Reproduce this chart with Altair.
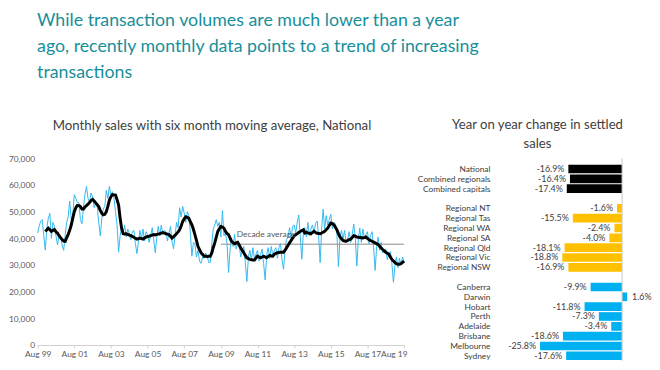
import altair as alt
import pandas as pd

FONT = "Lato"
TEAL = "#178f9a"
DARK = "#404040"
GREY = "#595959"

headline = ["While transaction volumes are much lower than a year",
            "ago, recently monthly data points to a trend of increasing",
            "transactions"]
left_title = "Monthly sales with six month moving average, National"
right_title = ["Year on year change in settled", "sales"]

# Monthly sales (thousands), Aug 1999 .. Aug 2019
sales_1999 = [42.0, 44.5, 46.5, 47.0, 41.0]
sales_2000 = [35.6, 44.0, 47.5, 49.4, 40.0, 46.0, 44.5, 41.0, 37.5, 41.0, 40.5, 37.5]
sales_2001 = [35.5, 41.4, 46.0, 48.1, 54.0, 47.0, 48.5, 56.4, 55.0, 53.5, 53.4, 47.0]
sales_2002 = [45.5, 52.0, 56.5, 59.5, 55.0, 53.5, 57.0, 55.5, 51.5, 53.0, 52.0, 46.0]
sales_2003 = [41.0, 47.5, 51.0, 52.0, 58.0, 55.0, 59.5, 56.0, 57.5, 55.0, 50.0, 45.0]
sales_2004 = [34.8, 41.0, 44.5, 42.0, 45.0, 40.5, 43.5, 42.0, 39.5, 42.5, 43.0, 38.0]
sales_2005 = [34.3, 39.0, 43.0, 40.0, 43.5, 39.0, 42.5, 41.5, 38.5, 41.0, 44.0, 39.5]
sales_2006 = [34.6, 40.5, 44.5, 41.0, 45.0, 41.5, 43.0, 42.5, 39.0, 42.0, 44.5, 39.0]
sales_2007 = [36.1, 41.0, 46.0, 44.0, 51.5, 48.0, 52.0, 49.5, 46.0, 50.0, 48.5, 42.0]
sales_2008 = [33.3, 38.5, 38.0, 33.0, 35.5, 31.5, 30.6, 33.0, 32.5, 34.5, 33.5, 31.0]
sales_2009 = [30.9, 38.0, 43.5, 45.0, 47.0, 44.5, 46.0, 40.5, 50.4, 41.0, 42.0, 38.0]
sales_2010 = [27.2, 36.0, 40.0, 37.0, 41.5, 36.0, 38.0, 37.5, 33.0, 35.5, 37.0, 31.0]
sales_2011 = [23.8, 33.0, 35.5, 32.0, 36.5, 32.5, 34.0, 35.5, 31.5, 34.0, 36.0, 30.5]
sales_2012 = [24.4, 34.0, 36.5, 32.5, 37.0, 33.5, 35.5, 36.5, 32.5, 36.5, 38.0, 32.0]
sales_2013 = [28.4, 36.0, 39.5, 40.5, 44.0, 40.0, 44.5, 45.0, 42.0, 46.0, 48.8, 40.5]
sales_2014 = [32.2, 42.5, 44.0, 40.5, 46.0, 41.0, 43.5, 45.0, 42.0, 45.5, 46.5, 41.0]
sales_2015 = [30.9, 44.0, 50.9, 43.5, 48.5, 45.0, 47.0, 49.0, 43.5, 46.0, 45.5, 41.5]
sales_2016 = [29.4, 40.5, 43.0, 39.5, 43.0, 38.5, 39.5, 42.5, 38.5, 41.5, 45.4, 40.0]
sales_2017 = [29.6, 40.0, 43.8, 38.5, 43.5, 40.0, 41.5, 42.5, 38.0, 41.0, 42.5, 36.5]
sales_2018 = [28.0, 37.0, 40.5, 35.5, 38.5, 34.5, 35.5, 36.0, 32.0, 34.5, 35.0, 30.5]
sales_2019 = [23.5, 30.0, 33.0, 29.0, 32.5, 30.0, 33.0, 31.0]

# Six month moving average (thousands), Jan 2000 .. Aug 2019
ma_2000 = [42.6, 43.2, 43.8, 43.2, 42.6, 43.0, 43.3, 42.5, 41.9, 41.0, 40.2, 39.6]
ma_2001 = [39.0, 38.9, 40.2, 41.5, 43.0, 45.0, 47.5, 50.0, 51.5, 52.4, 52.3, 51.9]
ma_2002 = [51.0, 51.0, 51.8, 52.3, 52.8, 53.4, 54.2, 54.6, 54.0, 53.3, 52.6, 51.9]
ma_2003 = [50.5, 49.4, 48.8, 49.0, 50.0, 52.0, 54.3, 55.6, 56.4, 56.3, 56.2, 54.5]
ma_2004 = [52.5, 47.5, 43.8, 41.7, 41.6, 41.7, 41.5, 41.2, 41.0, 40.7, 40.4, 40.0]
ma_2005 = [39.7, 39.9, 40.1, 39.9, 39.7, 40.1, 40.5, 40.7, 40.8, 41.0, 41.2, 41.4]
ma_2006 = [41.3, 41.5, 41.6, 41.7, 42.0, 42.2, 42.0, 41.7, 41.6, 41.4, 40.8, 40.1]
ma_2007 = [40.6, 41.2, 41.7, 42.4, 43.2, 44.6, 46.3, 47.3, 48.1, 47.9, 47.5, 46.3]
ma_2008 = [45.1, 43.3, 41.4, 39.2, 37.0, 35.8, 34.6, 34.0, 33.3, 33.3, 33.2, 33.3]
ma_2009 = [33.3, 34.5, 36.5, 38.3, 40.5, 42.6, 43.6, 44.4, 44.2, 43.8, 42.6, 41.8]
ma_2010 = [41.4, 40.1, 38.9, 38.4, 38.0, 38.3, 38.5, 37.5, 36.4, 35.5, 34.6, 33.6]
ma_2011 = [32.7, 32.4, 32.1, 32.0, 31.9, 31.9, 32.6, 33.3, 33.0, 32.7, 33.0, 33.3]
ma_2012 = [33.0, 32.7, 33.2, 33.6, 33.4, 33.3, 34.0, 34.4, 34.6, 34.7, 34.8, 34.8]
ma_2013 = [34.8, 35.6, 36.4, 37.4, 38.3, 39.2, 40.1, 40.9, 41.4, 41.7, 42.2, 42.6]
ma_2014 = [42.9, 43.2, 42.0, 42.3, 42.0, 41.9, 41.7, 42.2, 42.6, 42.2, 41.9, 41.8]
ma_2015 = [41.7, 42.0, 42.3, 42.6, 43.2, 43.8, 44.8, 45.7, 45.5, 45.1, 44.2, 43.2]
ma_2016 = [41.8, 40.5, 39.8, 39.2, 39.0, 38.9, 39.2, 39.5, 39.7, 40.3, 41.0, 40.8]
ma_2017 = [40.5, 40.4, 40.3, 40.2, 40.1, 40.3, 40.5, 40.0, 39.5, 39.2, 38.9, 38.6]
ma_2018 = [38.3, 38.0, 37.7, 37.0, 36.4, 35.8, 35.3, 34.8, 34.4, 34.0, 33.0, 32.1]
ma_2019 = [31.5, 30.9, 30.5, 30.3, 30.3, 30.5, 31.0, 31.5]

decade_average = 37.8  # thousands, Aug 2009 .. Aug 2019
decade_label = "Decade average"

yoy_names = ["National", "Combined regionals", "Combined capitals",
             "Regional NT", "Regional Tas", "Regional WA", "Regional SA",
             "Regional Qld", "Regional Vic", "Regional NSW",
             "Canberra", "Darwin", "Hobart", "Perth", "Adelaide",
             "Brisbane", "Melbourne", "Sydney"]
yoy_values = [-16.9, -16.4, -17.4,
              -1.6, -15.5, -2.4, -4.0, -18.1, -18.8, -16.9,
              -9.9, 1.6, -11.8, -7.3, -3.4, -18.6, -25.8, -17.6]
yoy_groups = ["Total"] * 3 + ["Regional"] * 7 + ["Capital"] * 8

# ---------------- tables ----------------
sales = (sales_1999 + sales_2000 + sales_2001 + sales_2002 + sales_2003 + sales_2004
         + sales_2005 + sales_2006 + sales_2007 + sales_2008 + sales_2009 + sales_2010
         + sales_2011 + sales_2012 + sales_2013 + sales_2014 + sales_2015 + sales_2016
         + sales_2017 + sales_2018 + sales_2019)
ma = (ma_2000 + ma_2001 + ma_2002 + ma_2003 + ma_2004 + ma_2005 + ma_2006 + ma_2007
      + ma_2008 + ma_2009 + ma_2010 + ma_2011 + ma_2012 + ma_2013 + ma_2014 + ma_2015
      + ma_2016 + ma_2017 + ma_2018 + ma_2019)

sales_df = pd.DataFrame({
    "date": pd.date_range("1999-08-01", periods=len(sales), freq="MS").strftime("%Y-%m-%dT00:00:00"),
    "v": [s * 1000 for s in sales]})
ma_df = pd.DataFrame({
    "date": pd.date_range("2000-01-01", periods=len(ma), freq="MS").strftime("%Y-%m-%dT00:00:00"),
    "v": [s * 1000 for s in ma]})
avg_df = pd.DataFrame({"date": ["2009-08-01T00:00:00"], "end": ["2019-08-01T00:00:00"],
                       "v": [decade_average * 1000], "label": [decade_label]})

x_dom = [alt.DateTime(year=1999, month=8, date=1), alt.DateTime(year=2019, month=8, date=1)]
x_ticks = [alt.DateTime(year=y, month=8, date=1) for y in range(1999, 2020, 2)]

xenc = alt.X("date:T", title=None,
             scale=alt.Scale(domain=x_dom),
             axis=alt.Axis(values=x_ticks, format="%b %y", grid=False,
                           domainColor="#d0d0d0", tickColor="#d0d0d0", tickSize=3,
                           labelFont=FONT, labelFontSize=8.5, labelColor=GREY,
                           labelPadding=2, labelOverlap=False,
                           labelAlign={"expr": "datum.label == 'Aug 19' ? 'right' : 'center'"},
                           labelOffset={"condition": {"test": "datum.label == 'Aug 19'", "value": 3},
                                        "value": 0}))
yenc = alt.Y("v:Q", title=None,
             scale=alt.Scale(domain=[0, 70000]),
             axis=alt.Axis(values=list(range(0, 70001, 10000)), format=",d", grid=False,
                           domain=False, ticks=False, labelFont=FONT, labelFontSize=8.5,
                           labelColor=GREY, labelPadding=3, labelOverlap=False))

blue = alt.Chart(sales_df).mark_line(color="#33b8ef", strokeWidth=1).encode(x=xenc, y=yenc)
black = alt.Chart(ma_df).mark_line(color="#000000", strokeWidth=3).encode(x=xenc, y=yenc)
rule = alt.Chart(avg_df).mark_rule(color="#8c8c8c", strokeWidth=1).encode(
    x=xenc, x2="end:T", y=yenc)
rule_txt = alt.Chart(avg_df).mark_text(align="left", baseline="bottom", dx=16, dy=-5,
                                       font=FONT, fontSize=8.5, color=GREY).encode(
    x=xenc, y=yenc, text="label:N")

left = alt.layer(blue, rule, black, rule_txt).properties(
    width=371, height=189,
    title=alt.TitleParams(left_title, font=FONT, fontSize=13.4, fontWeight="normal",
                          color=DARK, offset=22, dx=-9))

# ---------------- bars ----------------
bar_df = pd.DataFrame({"name": yoy_names, "pct": yoy_values, "grp": yoy_groups,
                       "lbl": [f"{v:.1f}%" for v in yoy_values]})
row_order = yoy_names[:3] + [" "] + yoy_names[3:10] + ["  "] + yoy_names[10:]

ybar = alt.Y("name:N", title=None,
             scale=alt.Scale(domain=row_order, paddingInner=0.12, paddingOuter=0.36, align=0.9),
             axis=alt.Axis(ticks=False, domain=False, labelFont=FONT, labelFontSize=8.5,
                           labelColor=DARK, labelPadding=5, labelOverlap=False))
xbar = alt.X("pct:Q", title=None, scale=alt.Scale(domain=[-40, 6]), axis=None)

bars = alt.Chart(bar_df).mark_bar().encode(
    y=ybar, x=xbar,
    color=alt.Color("grp:N", legend=None,
                    scale=alt.Scale(domain=["Total", "Regional", "Capital"],
                                    range=["#000000", "#ffc000", "#00b0f0"])))
neg_txt = alt.Chart(bar_df).transform_filter("datum.pct < 0").mark_text(
    align="right", baseline="middle", dx=-4, font=FONT, fontSize=9, color=DARK).encode(
    y=ybar, x=xbar, text="lbl:N")
pos_txt = alt.Chart(bar_df).transform_filter("datum.pct >= 0").mark_text(
    align="left", baseline="middle", dx=5, font=FONT, fontSize=9, color=DARK).encode(
    y=ybar, x=xbar, text="lbl:N")
zero = alt.Chart(pd.DataFrame({"pct": [0]})).mark_rule(color="#c8c8c8", strokeWidth=1).encode(
    x=xbar)

right = alt.layer(bars, zero, neg_txt, pos_txt).properties(
    width=148, height=205,
    title=alt.TitleParams(right_title, font=FONT, fontSize=13.3, fontWeight="normal",
                          color=DARK, lineHeight=19, offset=16, dx=-31, dy=8))

chart = alt.hconcat(left, right, spacing=7).properties(
    padding={"left": 0, "top": 2, "right": 0, "bottom": 0},
    title=alt.TitleParams(headline, font=FONT, fontSize=18, fontWeight="normal",
                          color=TEAL, anchor="start", dx=29, lineHeight=26, offset=37),
    background="white",
).configure_view(stroke=None).configure_axis(labelOverlap=False)

chart.save("out.html", embed_options={"renderer": "svg", "actions": False})
